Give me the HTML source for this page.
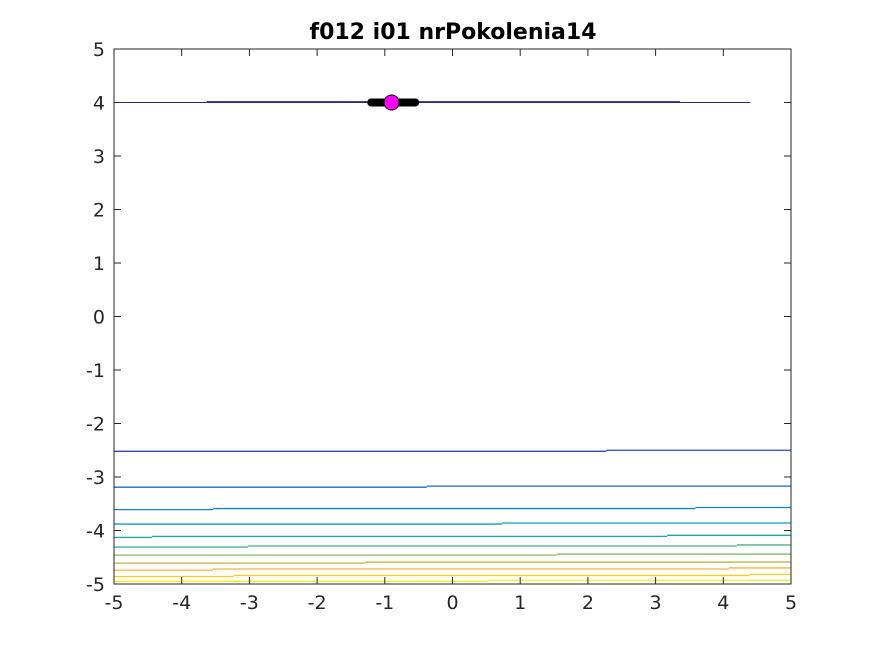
<!DOCTYPE html>
<html><head><meta charset="utf-8"><style>
body{margin:0;background:#fff;}
svg text{font-family:"DejaVu Sans","Liberation Sans",sans-serif;}
</style></head><body>
<svg id="chart" width="875" height="656" xmlns="http://www.w3.org/2000/svg">
<rect width="875" height="656" fill="#fff"/>
<text x="453" y="39" text-anchor="middle" font-size="22" font-weight="bold" fill="#000">f012 i01 nrPokolenia14</text>
<g id="lines"></g>
<g id="axes"></g>
</svg>
<script>
const xTicks = [-5,-4,-3,-2,-1,0,1,2,3,4,5];
const yTicks = [-5,-4,-3,-2,-1,0,1,2,3,4,5];
// contour levels: each has breakpoints (x) and y level per segment
const contourLevels = [
  [-2.52,-2.50],
  [-3.19,-3.17],
  [-3.61,-3.59,-3.57],
  [-3.88,-3.86],
  [-4.13,-4.11,-4.09],
  [-4.31,-4.29,-4.27],
  [-4.46,-4.44],
  [-4.61,-4.59],
  [-4.74,-4.72,-4.70],
  [-4.86,-4.84,-4.82],
  [-4.95,-4.93]
];
const contourBreaks = [
  [2.27],
  [-0.38],
  [-3.54,3.59],
  [0.73],
  [-4.44,3.17],
  [-3.02,4.2],
  [1.54],
  [-1.29],
  [-3.54,4.08],
  [-3.23,4.39],
  [0.52]
];
const contourColors = ['#2a48b8','#1868d4','#1282cc','#0b9cc2','#1aab9f','#45b582','#88ba62','#c0b548','#f0b43a','#f7cd25','#f3f014'];
const topLineY = [4.0, 4.01];
const topLineX = [-5, 4.4];
const topBandX = [-3.63, 3.36];
const bestX = [-1.2, -0.55];
const bestPoint = [-0.9, 4.0];

const X0=114,X1=791,Y0=584,Y1=49;
const sx=v=>X0+(v+5)/10*(X1-X0);
const sy=v=>Y0-(v+5)/10*(Y0-Y1);
const NS='http://www.w3.org/2000/svg';
const lines=document.getElementById('lines');
const axes=document.getElementById('axes');
function mk(tag,attrs,parent){const e=document.createElementNS(NS,tag);for(const k in attrs)e.setAttribute(k,attrs[k]);parent.appendChild(e);return e;}

contourLevels.forEach((lv,i)=>{
  const br=[-5,...contourBreaks[i],5];
  for(let j=0;j<lv.length;j++){
    const l=mk('line',{x1:sx(br[j]),x2:sx(br[j+1]),y1:sy(lv[j]),y2:sy(lv[j]),stroke:contourColors[i],'stroke-width':1.3},lines);
    
    
  }
});
let t=mk('line',{x1:sx(topLineX[0]),x2:sx(topLineX[1]),y1:sy(topLineY[0]),y2:sy(topLineY[0]),stroke:'#2b2a7a','stroke-width':1},lines);


t=mk('line',{x1:sx(topBandX[0]),x2:sx(topBandX[1]),y1:sy(topLineY[1]),y2:sy(topLineY[1]),stroke:'#2b2a7a','stroke-width':1.6},lines);


t=mk('line',{x1:sx(bestX[0]),x2:sx(bestX[1]),y1:sy(topLineY[0]),y2:sy(topLineY[0]),stroke:'#000','stroke-width':8,'stroke-linecap':'round'},lines);


t=mk('circle',{cx:sx(bestPoint[0]),cy:sy(bestPoint[1]),r:7.5,fill:'#ff00ff',stroke:'#000','stroke-width':1},lines);



let b=mk('rect',{x:X0,y:Y1,width:X1-X0,height:Y0-Y1,fill:'none',stroke:'#262626','stroke-width':1},axes);


xTicks.forEach(v=>{
  const x=sx(v);
  mk('line',{x1:x,x2:x,y1:Y0,y2:Y0-7,stroke:'#262626'},axes);
  mk('line',{x1:x,x2:x,y1:Y1,y2:Y1+7,stroke:'#262626'},axes);
  const tx=mk('text',{x:x,y:Y0+25,'text-anchor':'middle','font-size':19,fill:'#262626'},axes);
  tx.textContent=v;
  
  
});
yTicks.forEach(v=>{
  const y=sy(v);
  mk('line',{x1:X0,x2:X0+7,y1:y,y2:y,stroke:'#262626'},axes);
  mk('line',{x1:X1,x2:X1-7,y1:y,y2:y,stroke:'#262626'},axes);
  const tx=mk('text',{x:X0-9,y:y+7,'text-anchor':'end','font-size':19,fill:'#262626'},axes);
  tx.textContent=v;
  
  
});
</script>
</body></html>
